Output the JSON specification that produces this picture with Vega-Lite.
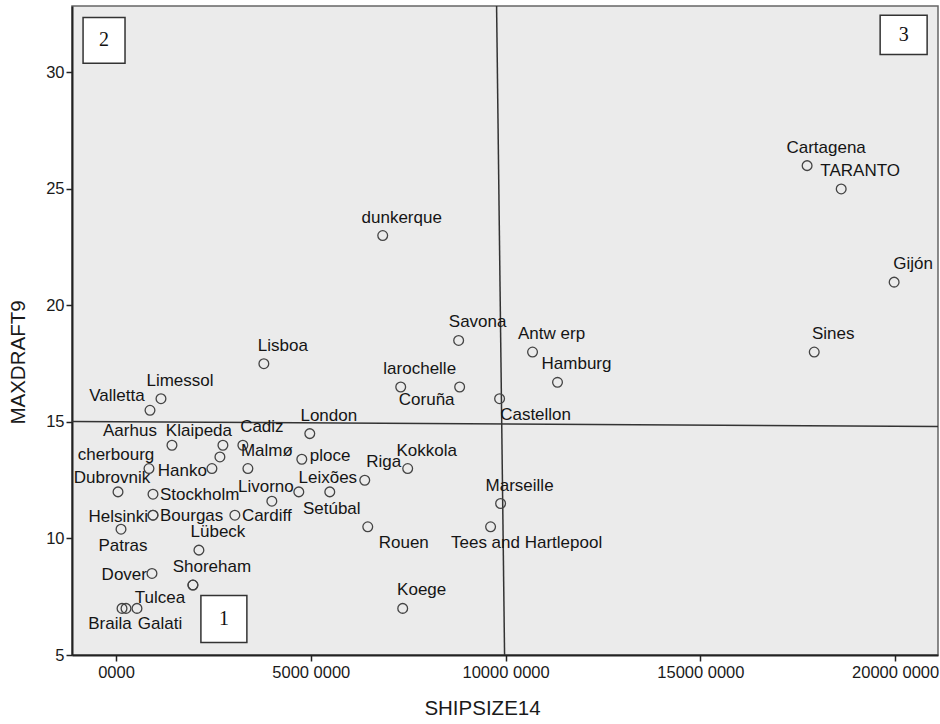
{
  "$schema": "https://vega.github.io/schema/vega-lite/v6.json",
  "width": 866,
  "height": 649,
  "autosize": {"type": "none"},
  "padding": {"left": 72, "top": 6, "right": 2, "bottom": 69},
  "background": "white",
  "config": {
    "view": {"fill": "#ebebeb", "stroke": "#666", "strokeWidth": 1.5},
    "axis": {
      "grid": false,
      "domainColor": "#222",
      "domainWidth": 2,
      "tickColor": "#222",
      "tickWidth": 1.5,
      "tickSize": 6,
      "labelColor": "#1a1a1a",
      "titleColor": "#1a1a1a",
      "labelFont": "Liberation Sans",
      "titleFont": "Liberation Sans",
      "labelFontSize": 16.5,
      "titleFontSize": 20.5,
      "titleFontWeight": "normal"
    },
    "text": {"font": "Liberation Sans", "fontSize": 17, "color": "#151515", "baseline": "middle"}
  },
  "datasets": {
    "ports": [
      {"name": "Cartagena", "x": 17740, "y": 26.0, "pos": "t"},
      {"name": "TARANTO", "x": 18615, "y": 25.0, "pos": "t"},
      {"name": "Gijón", "x": 19974, "y": 21.0, "pos": "t"},
      {"name": "Sines", "x": 17923, "y": 18.0, "pos": "t"},
      {"name": "dunkerque", "x": 6846, "y": 23.0, "pos": "t"},
      {"name": "Savona", "x": 8795, "y": 18.5, "pos": "t"},
      {"name": "Antw erp", "x": 10692, "y": 18.0, "pos": "t"},
      {"name": "Hamburg", "x": 11333, "y": 16.7, "pos": "t"},
      {"name": "Lisboa", "x": 3795, "y": 17.5, "pos": "t"},
      {"name": "larochelle", "x": 7308, "y": 16.5, "pos": "t"},
      {"name": "Coruña", "x": 8821, "y": 16.5, "pos": "bl"},
      {"name": "Castellon", "x": 9846, "y": 16.0, "pos": "br"},
      {"name": "Limessol", "x": 1154, "y": 16.0, "pos": "t"},
      {"name": "Valletta", "x": 872, "y": 15.5, "pos": "tl"},
      {"name": "London", "x": 4974, "y": 14.5, "pos": "t"},
      {"name": "Aarhus", "x": 1436, "y": 14.0, "pos": "tlw"},
      {"name": "Klaipeda", "x": 2744, "y": 14.0, "pos": "tln"},
      {"name": "Cadiz", "x": 3256, "y": 14.0, "pos": "t"},
      {"name": "", "x": 2667, "y": 13.5, "pos": "none"},
      {"name": "Hanko", "x": 2462, "y": 13.0, "pos": "l"},
      {"name": "cherbourg", "x": 846, "y": 13.0, "pos": "tl"},
      {"name": "Malmø", "x": 3385, "y": 13.0, "pos": "t"},
      {"name": "ploce", "x": 4769, "y": 13.4, "pos": "ru"},
      {"name": "Dubrovnik", "x": 51, "y": 12.0, "pos": "tc"},
      {"name": "Stockholm", "x": 949, "y": 11.9, "pos": "r"},
      {"name": "Bourgas", "x": 949, "y": 11.0, "pos": "r"},
      {"name": "Helsinki", "x": 949, "y": 11.0, "pos": "l"},
      {"name": "Patras", "x": 128, "y": 10.4, "pos": "b"},
      {"name": "Cardiff", "x": 3051, "y": 11.0, "pos": "r"},
      {"name": "Livorno", "x": 4000, "y": 11.6, "pos": "tc"},
      {"name": "Leixões", "x": 4692, "y": 12.0, "pos": "trl"},
      {"name": "Setúbal", "x": 5487, "y": 12.0, "pos": "b"},
      {"name": "Riga", "x": 6385, "y": 12.5, "pos": "t"},
      {"name": "Kokkola", "x": 7487, "y": 13.0, "pos": "t"},
      {"name": "Marseille", "x": 9872, "y": 11.5, "pos": "t"},
      {"name": "Tees and Hartlepool", "x": 9615, "y": 10.5, "pos": "br"},
      {"name": "Rouen", "x": 6462, "y": 10.5, "pos": "br"},
      {"name": "Koege", "x": 7359, "y": 7.0, "pos": "t"},
      {"name": "Lübeck", "x": 2128, "y": 9.5, "pos": "t"},
      {"name": "Dover", "x": 923, "y": 8.5, "pos": "l"},
      {"name": "Shoreham", "x": 1974, "y": 8.0, "pos": "t"},
      {"name": "Tulcea", "x": 1974, "y": 8.0, "pos": "bl"},
      {"name": "Braila", "x": 154, "y": 7.0, "pos": "bsl"},
      {"name": "", "x": 256, "y": 7.0, "pos": "none"},
      {"name": "Galati", "x": 538, "y": 7.0, "pos": "bsr"}
    ],
    "lines": [
      {"x": 9769, "y": 32.85, "x2": 9974, "y2": 5},
      {"x": -1130, "y": 15.02, "x2": 21100, "y2": 14.81}
    ],
    "boxes": [
      {"label": "2", "x": -846, "x2": 231, "y": 32.36, "y2": 30.39, "cx": -307, "cy": 31.37},
      {"label": "3", "x": 19615, "x2": 20821, "y": 32.45, "y2": 30.77, "cx": 20218, "cy": 31.61},
      {"label": "1", "x": 2179, "x2": 3359, "y": 7.55, "y2": 5.54, "cx": 2769, "cy": 6.55}
    ]
  },
  "encoding": {
    "x": {
      "field": "x",
      "type": "quantitative",
      "scale": {"domain": [-1130, 21100], "nice": false, "zero": false},
      "axis": {
        "title": "SHIPSIZE14",
        "values": [0, 5000, 10000, 15000, 20000],
        "labelExpr": "datum.value == 0 ? '0000' : datum.value + ' 0000'",
        "labelPadding": 3,
        "titleX": 410,
        "titleY": 53,
        "titleAlign": "center",
        "titleBaseline": "middle"
      }
    },
    "y": {
      "field": "y",
      "type": "quantitative",
      "scale": {"domain": [5, 32.85], "nice": false, "zero": false},
      "axis": {
        "title": "MAXDRAFT9",
        "values": [5, 10, 15, 20, 25, 30],
        "labelPadding": 2,
        "titleAngle": 270,
        "titleX": -54,
        "titleY": 356,
        "titleAlign": "center",
        "titleBaseline": "middle"
      }
    }
  },
  "layer": [
    {
      "data": {"name": "lines"},
      "mark": {"type": "rule", "color": "#333", "strokeWidth": 1.5},
      "encoding": {"x2": {"field": "x2"}, "y2": {"field": "y2"}}
    },
    {
      "data": {"name": "boxes"},
      "mark": {"type": "rect", "fill": "white", "stroke": "#333", "strokeWidth": 1.5},
      "encoding": {"x2": {"field": "x2"}, "y2": {"field": "y2"}}
    },
    {
      "data": {"name": "boxes"},
      "mark": {"type": "text", "font": "Liberation Serif", "fontSize": 20, "color": "#111", "align": "center"},
      "encoding": {
        "x": {"field": "cx", "type": "quantitative"},
        "y": {"field": "cy", "type": "quantitative"},
        "text": {"field": "label"}
      }
    },
    {
      "data": {"name": "ports"},
      "mark": {"type": "point", "shape": "circle", "filled": false, "stroke": "#444", "strokeWidth": 1.3, "size": 95, "opacity": 1}
    },
    {
      "data": {"name": "ports"},
      "transform": [{"filter": "datum.pos == 't'"}],
      "mark": {"type": "text", "align": "center", "dx": 19, "dy": -18},
      "encoding": {"text": {"field": "name"}}
    },
    {
      "data": {"name": "ports"},
      "transform": [{"filter": "datum.pos == 'trl'"}],
      "mark": {"type": "text", "align": "center", "dx": 29, "dy": -14},
      "encoding": {"text": {"field": "name"}}
    },
    {
      "data": {"name": "ports"},
      "transform": [{"filter": "datum.pos == 'tc'"}],
      "mark": {"type": "text", "align": "center", "dx": -6, "dy": -14},
      "encoding": {"text": {"field": "name"}}
    },
    {
      "data": {"name": "ports"},
      "transform": [{"filter": "datum.pos == 'tl'"}],
      "mark": {"type": "text", "align": "center", "dx": -33, "dy": -14},
      "encoding": {"text": {"field": "name"}}
    },
    {
      "data": {"name": "ports"},
      "transform": [{"filter": "datum.pos == 'tlw'"}],
      "mark": {"type": "text", "align": "center", "dx": -42, "dy": -14},
      "encoding": {"text": {"field": "name"}}
    },
    {
      "data": {"name": "ports"},
      "transform": [{"filter": "datum.pos == 'tln'"}],
      "mark": {"type": "text", "align": "center", "dx": -24, "dy": -14},
      "encoding": {"text": {"field": "name"}}
    },
    {
      "data": {"name": "ports"},
      "transform": [{"filter": "datum.pos == 'r'"}],
      "mark": {"type": "text", "align": "left", "dx": 7, "dy": 1},
      "encoding": {"text": {"field": "name"}}
    },
    {
      "data": {"name": "ports"},
      "transform": [{"filter": "datum.pos == 'ru'"}],
      "mark": {"type": "text", "align": "left", "dx": 8, "dy": -3},
      "encoding": {"text": {"field": "name"}}
    },
    {
      "data": {"name": "ports"},
      "transform": [{"filter": "datum.pos == 'l'"}],
      "mark": {"type": "text", "align": "right", "dx": -5, "dy": 2},
      "encoding": {"text": {"field": "name"}}
    },
    {
      "data": {"name": "ports"},
      "transform": [{"filter": "datum.pos == 'b'"}],
      "mark": {"type": "text", "align": "center", "dx": 2, "dy": 17},
      "encoding": {"text": {"field": "name"}}
    },
    {
      "data": {"name": "ports"},
      "transform": [{"filter": "datum.pos == 'br'"}],
      "mark": {"type": "text", "align": "center", "dx": 36, "dy": 16},
      "encoding": {"text": {"field": "name"}}
    },
    {
      "data": {"name": "ports"},
      "transform": [{"filter": "datum.pos == 'bl'"}],
      "mark": {"type": "text", "align": "center", "dx": -33, "dy": 13},
      "encoding": {"text": {"field": "name"}}
    },
    {
      "data": {"name": "ports"},
      "transform": [{"filter": "datum.pos == 'bsl'"}],
      "mark": {"type": "text", "align": "center", "dx": -12, "dy": 16},
      "encoding": {"text": {"field": "name"}}
    },
    {
      "data": {"name": "ports"},
      "transform": [{"filter": "datum.pos == 'bsr'"}],
      "mark": {"type": "text", "align": "center", "dx": 23, "dy": 16},
      "encoding": {"text": {"field": "name"}}
    }
  ]
}
